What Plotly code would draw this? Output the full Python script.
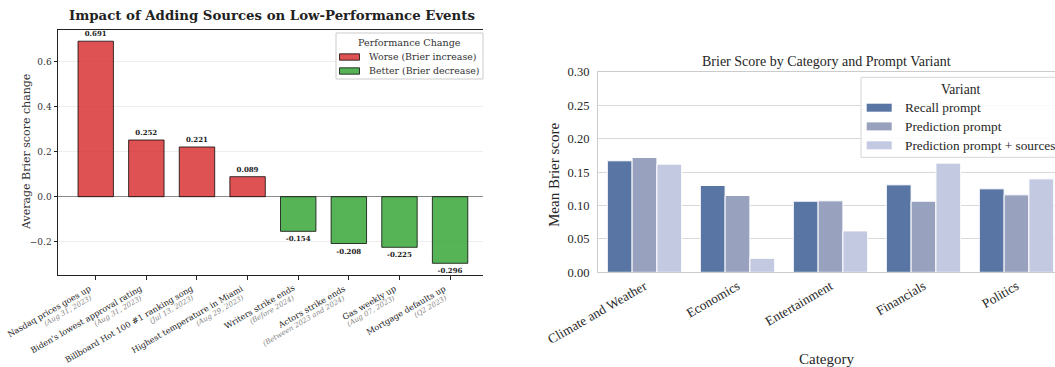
import plotly.graph_objects as go

W, H = 1055, 367

# ---------------- data ----------------
events = ["Nasdaq prices goes up", "Biden's lowest approval rating", "Billboard Hot 100 #1 ranking song",
          "Highest temperature in Miami", "Writers strike ends", "Actors strike ends",
          "Gas weekly up", "Mortgage defaults up"]
event_dates = ["(Aug 31, 2023)", "(Aug 31, 2023)", "(Jul 13, 2023)", "(Aug 29, 2023)",
               "(Before 2024)", "(Between 2023 and 2024)", "(Aug 07, 2023)", "(Q2 2023)"]
brier_change = [0.691, 0.252, 0.221, 0.089, -0.154, -0.208, -0.225, -0.296]
change_names = ["Worse (Brier increase)", "Better (Brier decrease)"]

categories = ["Climate and Weather", "Economics", "Entertainment", "Financials", "Politics"]
recall_prompt = [0.167, 0.130, 0.1065, 0.131, 0.125]
prediction_prompt = [0.172, 0.115, 0.107, 0.1065, 0.116]
prediction_sources = [0.162, 0.021, 0.062, 0.1635, 0.140]
variant_names = ["Recall prompt", "Prediction prompt", "Prediction prompt + sources"]

# ---------------- helpers ----------------
def px(x):
    return x / W

def py(y):
    return 1 - y / H

LF = "DejaVu Serif"
RF = "Liberation Serif"
RED = "rgba(214,39,40,0.8)"
GREEN = "rgba(44,160,44,0.8)"
EDGE = "rgba(0,0,0,0.75)"
VCOLORS = ["#5875a4", "#98a2bf", "#c4c9e2"]

fig = go.Figure()

# ---------------- left chart ----------------
worse_x = [e for e, v in zip(events, brier_change) if v > 0]
worse_y = [v for v in brier_change if v > 0]
better_x = [e for e, v in zip(events, brier_change) if v <= 0]
better_y = [v for v in brier_change if v <= 0]

for xs, ys, name, col in [(worse_x, worse_y, change_names[0], RED),
                          (better_x, better_y, change_names[1], GREEN)]:
    fig.add_trace(go.Bar(
        x=xs, y=ys, name=name, xaxis="x", yaxis="y", showlegend=False,
        width=0.7, offset=-0.35,
        marker=dict(color=col, line=dict(color=EDGE, width=1)),
        text=[f"{v:.3f}" for v in ys], textposition="outside",
        textfont=dict(family=LF, size=7, color="#222", weight="bold"),
        cliponaxis=False,
    ))

annotations = []
shapes = []
# rotated category labels (name + date) under the left chart
for e, d in zip(events, event_dates):
    annotations.append(dict(
        text=e, x=e, xref="x", xshift=-1, y=py(282), yref="paper", textangle=-30,
        xanchor="right", yanchor="top", showarrow=False, borderpad=0,
        font=dict(family=LF, size=8.2, color="#222"),
    ))
    annotations.append(dict(
        text=f"<i>{d}</i>", x=e, xref="x", xshift=-1, y=py(292), yref="paper", textangle=-30,
        xanchor="right", yanchor="top", showarrow=False, borderpad=0,
        font=dict(family=LF, size=7.1, color="#858585"),
    ))

# legend of the left chart
lx0, lx1, ly0, ly1 = 336, 483, 33, 79
shapes.append(dict(type="rect", xref="paper", yref="paper",
                   x0=px(lx0), x1=px(lx1), y0=py(ly1), y1=py(ly0),
                   line=dict(color="#cccccc", width=1), fillcolor="rgba(255,255,255,0.9)", layer="above"))
annotations.append(dict(text="Performance Change", x=px((lx0 + lx1) / 2), y=py(43), xref="paper", yref="paper",
                        showarrow=False, xanchor="center", yanchor="middle",
                        font=dict(family=LF, size=9.6, color="#333")))
for name, col, yc in [(change_names[0], RED, 57), (change_names[1], GREEN, 71)]:
    shapes.append(dict(type="rect", xref="paper", yref="paper",
                       x0=px(339.5), x1=px(359.5), y0=py(yc + 3.2), y1=py(yc - 3.2),
                       line=dict(color=EDGE, width=1), fillcolor=col, layer="above"))
    annotations.append(dict(text=name, x=px(366.5), y=py(yc), xref="paper", yref="paper",
                            showarrow=False, xanchor="left", yanchor="middle",
                            font=dict(family=LF, size=9.4, color="#333")))

# ---------------- right chart ----------------
bw = 0.8 / 3
for i, (vals, name) in enumerate(zip([recall_prompt, prediction_prompt, prediction_sources], variant_names)):
    fig.add_trace(go.Bar(
        x=categories, y=vals, name=name, xaxis="x2", yaxis="y2", showlegend=False,
        width=bw, offset=-0.4 + i * bw,
        marker=dict(color=VCOLORS[i], line=dict(color="white", width=1)),
    ))

# legend of the right chart (cut by the right edge, as in the source)
rx0, ry0, ry1 = 861, 77.3, 157.3
shapes.append(dict(type="rect", xref="paper", yref="paper",
                   x0=px(rx0), x1=px(1070), y0=py(ry1), y1=py(ry0),
                   line=dict(color="#d6d6d6", width=1), fillcolor="rgba(255,255,255,0.85)", layer="above"))
annotations.append(dict(text="Variant", x=px(960), y=py(89), xref="paper", yref="paper",
                        showarrow=False, xanchor="center", yanchor="middle",
                        font=dict(family=RF, size=13.6, color="#262626")))
for name, col, yc in zip(variant_names, VCOLORS, [107.7, 126.4, 145.3]):
    shapes.append(dict(type="rect", xref="paper", yref="paper",
                       x0=px(866.7), x1=px(891.7), y0=py(yc + 4), y1=py(yc - 4),
                       line=dict(width=0), fillcolor=col, layer="above"))
    annotations.append(dict(text=name, x=px(903.3), y=py(yc), xref="paper", yref="paper",
                            showarrow=False, xanchor="left", yanchor="middle",
                            font=dict(family=RF, size=13.3, color="#262626")))

# right axis spans 598 px .. 1063 px (cut off at 1055)
unit = 93.0
r_left = 598.0
r_range_right = -0.5 + (W - r_left) / unit

annotations += [
    dict(text="<b>Impact of Adding Sources on Low-Performance Events</b>", x=px(272), y=py(16),
         xref="paper", yref="paper", showarrow=False, xanchor="center", yanchor="middle",
         font=dict(family=LF, size=13.3, color="#222")),
    dict(text="Average Brier score change", x=px(26), y=py(152), textangle=-90,
         xref="paper", yref="paper", showarrow=False, xanchor="center", yanchor="middle",
         font=dict(family=LF, size=11, color="#333")),
    dict(text="Brier Score by Category and Prompt Variant", x=px(826), y=py(61),
         xref="paper", yref="paper", showarrow=False, xanchor="center", yanchor="middle",
         font=dict(family=RF, size=14, color="#262626")),
    dict(text="Mean Brier score", x=px(554), y=py(175), textangle=-90,
         xref="paper", yref="paper", showarrow=False, xanchor="center", yanchor="middle",
         font=dict(family=RF, size=15, color="#262626")),
    dict(text="Category", x=px(826), y=py(359),
         xref="paper", yref="paper", showarrow=False, xanchor="center", yanchor="middle",
         font=dict(family=RF, size=15, color="#262626")),
]

fig.update_layout(
    width=W, height=H,
    margin=dict(l=0, r=0, t=0, b=0, autoexpand=False),
    paper_bgcolor="white", plot_bgcolor="white",
    barmode="overlay",
    showlegend=False,
    xaxis=dict(
        domain=[px(58), px(483)], anchor="y", automargin=False,
        type="category", categoryorder="array", categoryarray=events,
        range=[-0.745, 7.65], showticklabels=False,
        showline=True, linecolor="#222", linewidth=1, mirror=True,
        ticks="outside", ticklen=3.5, tickcolor="#222",
        showgrid=False, zeroline=False,
    ),
    yaxis=dict(
        domain=[py(275), py(29.5)], anchor="x", automargin=False,
        range=[-0.348, 0.743],
        tickvals=[-0.2, 0.0, 0.2, 0.4, 0.6], tickformat=".1f",
        tickfont=dict(family=LF, size=9, color="#333"),
        showline=True, linecolor="#222", linewidth=1,
        ticks="outside", ticklen=3.5, tickcolor="#222",
        showgrid=True, gridcolor="#eeeeee", gridwidth=1,
        zeroline=True, zerolinecolor="#8a8a8a", zerolinewidth=1,
    ),
    xaxis2=dict(
        domain=[px(r_left), 1.0], anchor="y2", automargin=False,
        type="category", categoryorder="array", categoryarray=categories,
        range=[-0.5, r_range_right],
        tickangle=-30,
        tickfont=dict(family=RF, size=13.3, color="#262626"),
        showline=True, linecolor="#cccccc", linewidth=1.2, mirror=True,
        ticks="", showgrid=False, zeroline=False,
    ),
    yaxis2=dict(
        domain=[py(272.3), py(72)], anchor="x2", automargin=False,
        range=[0, 0.30], dtick=0.05, tickformat=".2f",
        tickfont=dict(family=RF, size=12.5, color="#262626"),
        ticklabelstandoff=5,
        showline=True, linecolor="#cccccc", linewidth=1.2,
        ticks="", showgrid=True, gridcolor="#d9d9d9", gridwidth=1.2,
        zeroline=False,
    ),
    shapes=shapes,
    annotations=annotations,
)

fig.write_html("out.html")
